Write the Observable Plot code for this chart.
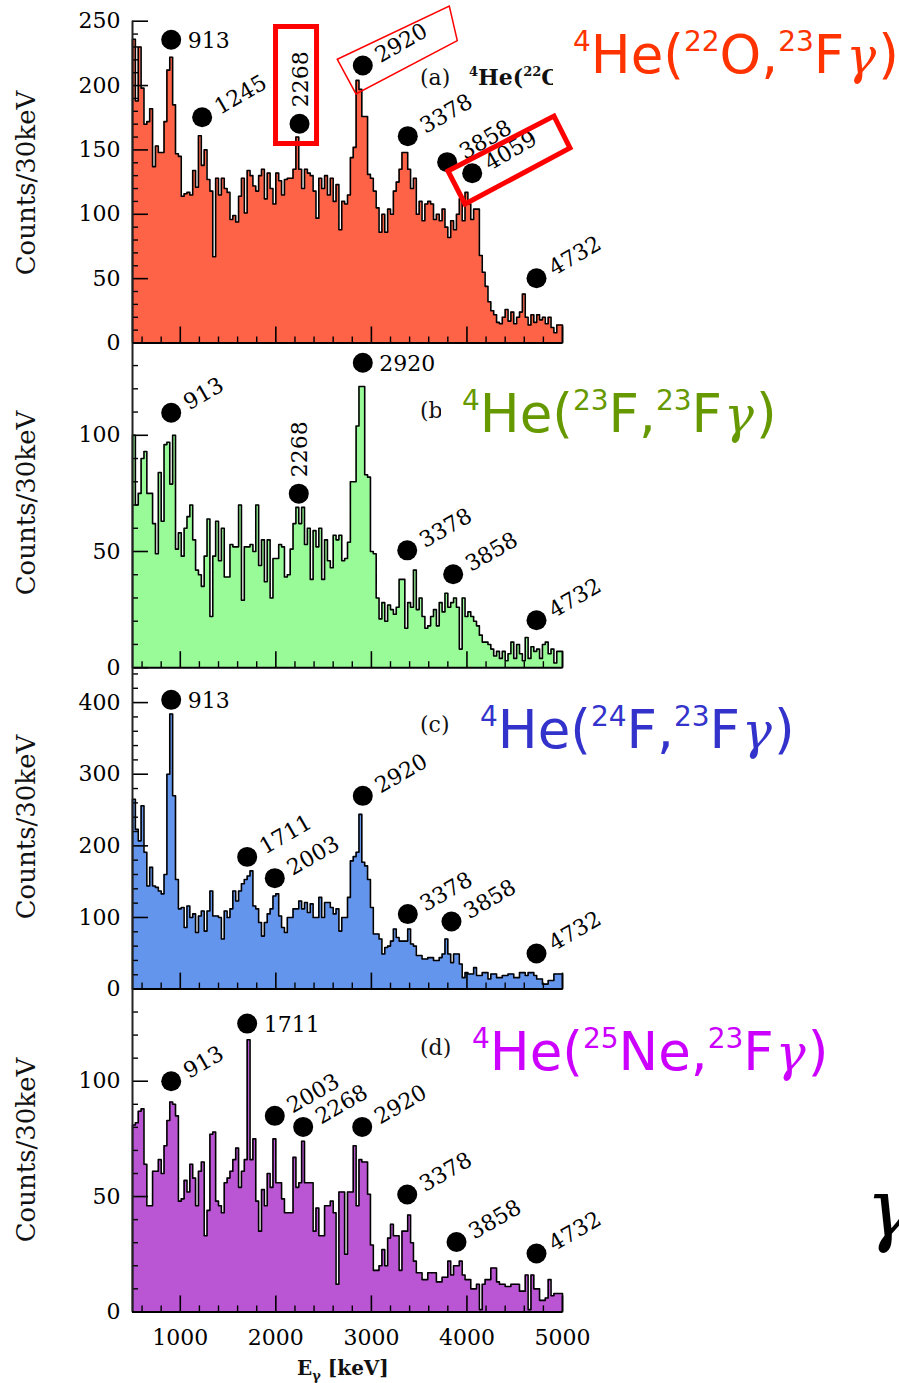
<!DOCTYPE html>
<html><head><meta charset="utf-8">
<script src="https://cdn.jsdelivr.net/npm/d3@7"></script>
<script src="https://cdn.jsdelivr.net/npm/@observablehq/plot@0.6"></script>
<style>
html,body{margin:0;padding:0;background:#fff;overflow:hidden;}
#page{position:relative;width:899px;height:1383px;overflow:hidden;}
#page svg{position:absolute;left:0;}
</style></head><body><div id="page"></div>
<script>
// ---------------- DATA ----------------
const binStart = 500, binWidth = 30, xMin = 500, xMax = 5000;

const countsA = [
236,188,230,198,170,172,182,137,153,148,
148,172,212,222,185,147,145,114,116,117,
115,134,121,161,138,150,127,118,67,128,
115,128,120,117,96,99,94,114,128,101,
134,130,122,118,130,135,112,132,120,108,
132,126,115,127,128,128,135,160,135,120,
135,132,130,118,97,128,120,130,115,128,
110,123,88,110,108,115,144,152,204,197,
176,176,131,128,118,105,86,100,86,104,
100,118,125,135,148,148,135,120,128,100,
110,95,108,110,108,96,100,95,104,90,
82,95,88,100,112,95,117,108,96,104,
104,68,55,44,32,25,22,16,15,20,
26,17,24,15,20,24,38,20,14,22,
16,22,18,20,15,20,12,8,14,14];

const countsB = [
100,70,75,90,93,75,75,62,49,84,
63,96,97,79,100,51,58,48,60,65,
70,55,42,40,35,48,64,22,48,63,
46,60,39,39,53,52,52,70,29,52,
52,53,50,70,44,55,37,55,30,47,
47,53,52,39,40,51,62,69,62,69,
53,60,38,59,52,60,38,55,46,43,
57,55,57,46,47,54,80,80,104,121,
121,83,82,50,49,30,21,28,20,27,
25,23,26,38,38,17,28,26,42,25,
30,22,17,18,22,25,18,28,24,32,
26,28,30,26,8,30,22,24,22,20,
18,14,11,11,10,8,5,7,4,7,
3,6,11,4,10,6,3,13,4,9,
7,8,4,10,11,6,8,2,7,7];

const countsC = [
265,223,207,256,191,144,170,144,142,137,
133,160,300,384,270,153,112,114,86,116,
100,105,79,102,109,81,109,137,102,102,
100,70,109,100,112,137,123,137,147,153,
158,165,116,112,93,74,93,105,112,130,
133,102,86,79,100,100,112,112,123,112,
121,107,119,100,100,128,100,121,121,114,
105,112,81,100,100,128,179,185,191,244,
177,172,153,114,77,77,70,49,58,60,
67,84,72,67,67,67,84,63,60,47,
47,42,42,44,44,40,40,44,49,70,
49,37,49,49,35,16,23,21,21,30,
19,19,23,23,14,21,21,16,16,19,
19,21,21,16,16,23,23,19,23,23,
19,14,14,7,7,12,12,21,21,21];

const countsD = [
81,82,87,88,64,46,46,61,61,66,
60,72,83,91,90,85,48,49,57,52,
64,58,46,61,65,33,44,77,78,48,
46,43,56,58,61,66,71,54,61,66,
118,66,75,48,35,53,46,60,54,75,
56,56,49,43,43,43,67,54,56,74,
56,56,56,35,45,33,33,46,46,48,
43,12,52,52,25,52,52,72,46,66,
65,65,51,29,18,18,20,27,20,32,
38,33,33,18,35,35,42,30,22,17,
17,14,14,17,17,17,13,13,15,15,
22,16,20,20,22,16,14,14,10,10,
12,1,12,14,14,19,19,13,12,12,
11,11,12,12,12,9,9,16,1,16,
10,10,5,5,6,14,7,8,8,8];

// peak annotations (label, dot energy, dot height)
const peakLabelsA = ["913","1245","2268","2920","3378","3858","4059","4732"];
const peakEA = [905,1229,2248,2910,3381,3793,4055,4728];
const peakVA = [235.6,175.4,170.3,215.6,160.7,140.5,131.9,50.3];

const peakLabelsB = ["913","2268","2920","3378","3858","4732"];
const peakEB = [905,2240,2910,3375,3856,4728];
const peakVB = [109.7,74.9,131.2,50.5,40.2,20.4];

const peakLabelsC = ["913","1711","2003","2920","3378","3858","4732"];
const peakEC = [905,1700,1989,2910,3381,3838,4728];
const peakVC = [403.8,184.6,154.9,269.8,104.7,94.3,49.7];

const peakLabelsD = ["913","1711","2003","2268","2920","3378","3858","4732"];
const peakED = [905,1700,1989,2286,2904,3375,3891,4728];
const peakVD = [100,125,85,80.2,80.2,50.9,30.3,25.3];

const yTickLabelsA = [0,50,100,150,200,250];
const yTickLabelsB = [0,50,100];
const yTickLabelsC = [0,100,200,300,400];
const yTickLabelsD = [0,50,100];
const xTickLabels = [1000,2000,3000,4000,5000];

const panelTags = ["(a)","(b)","(c)","(d)"];
const reactionsTarget = ["22O","23F","24F","25Ne"];

// ---------------- DRAWING ----------------
const page = document.getElementById("page");
const W = 899, plotLeft = 132, plotRight = 562;
const pxPerKeV = (plotRight - plotLeft) / (xMax - xMin);
const serif = "DejaVu Serif";

function histPoints(counts) {
  const pts = [{x: xMin, y: 0}];
  counts.forEach((v, i) => pts.push({x: binStart + binWidth * i, y: v}));
  pts.push({x: xMax, y: counts[counts.length - 1]});
  pts.push({x: xMax, y: 0});
  return pts;
}

function makePanel(cfg) {
  const {counts, fill, ymax, top, bottom, mTop = 0, mBottom = 0, majorStep, minorStep,
         yLabels, labels, es, vs, horiz = [], vert = [], showX = false} = cfg;
  const plotH = bottom - top - mTop;
  const yLen = L => L * ymax / plotH;
  const xLen = L => L / pxPerKeV;
  const majors = d3.range(0, ymax + 0.001, majorStep);
  const minors = d3.range(0, ymax + 0.001, minorStep).filter(v => Math.abs(v / majorStep - Math.round(v / majorStep)) > 1e-6);
  const xMajors = d3.range(1000, 5001, 1000);
  const xMinors = d3.range(600, 5000, 200).filter(v => v % 1000 !== 0);
  const peaks = labels.map((l, i) => ({label: l, e: es[i], v: vs[i]}));
  const hPeaks = peaks.filter(p => horiz.includes(p.label));
  const vPeaks = peaks.filter(p => vert.includes(p.label));
  const rPeaks = peaks.filter(p => !horiz.includes(p.label) && !vert.includes(p.label));
  const pts = histPoints(counts);
  const ang = 30 * Math.PI / 180, off = 16.5;
  const marks = [
    Plot.areaY(pts, {x: "x", y: "y", curve: "step-after", fill}),
    Plot.lineY(pts, {x: "x", y: "y", curve: "step-after", stroke: "black", strokeWidth: 1.6}),
    Plot.ruleY(majors, {y: d => d, x1: xMin, x2: xMin + xLen(16), stroke: "black", strokeWidth: 1.6}),
    Plot.ruleY(minors, {y: d => d, x1: xMin, x2: xMin + xLen(6), stroke: "black", strokeWidth: 1.4}),
    Plot.ruleX(xMajors, {x: d => d, y1: 0, y2: yLen(16), stroke: "black", strokeWidth: 1.6}),
    Plot.ruleX(xMinors, {x: d => d, y1: 0, y2: yLen(6), stroke: "black", strokeWidth: 1.4}),
    Plot.ruleX([xMin], {y1: 0, y2: ymax, stroke: "#222", strokeWidth: 2}),
    Plot.ruleY([0], {x1: xMin, x2: xMax, stroke: "black", strokeWidth: 2}),
    Plot.text(yLabels, {x: xMin, y: d => d, text: d => String(d), textAnchor: "end", dx: -12, fontSize: 22, fontFamily: serif, fill: "black"}),
    Plot.dot(peaks, {x: "e", y: "v", r: 10, fill: "black"}),
    Plot.text(hPeaks, {x: "e", y: "v", text: "label", textAnchor: "start", dx: off, dy: 1, fontSize: 22, fontFamily: serif, fill: "black"}),
    Plot.text(vPeaks, {x: "e", y: "v", text: "label", textAnchor: "start", rotate: -90, dx: 1, dy: -off, fontSize: 22, fontFamily: serif, fill: "black"}),
    Plot.text(rPeaks, {x: "e", y: "v", text: "label", textAnchor: "start", rotate: -30, dx: off * Math.cos(ang), dy: -off * Math.sin(ang), fontSize: 22, fontFamily: serif, fill: "black"})
  ];
  if (showX) {
    marks.push(Plot.text(xTickLabels, {x: d => d, y: 0, text: d => String(d), dy: 26, fontSize: 22, fontFamily: serif, fill: "black"}));
  }
  const svg = Plot.plot({
    width: W, height: bottom - top + mBottom,
    marginLeft: plotLeft, marginRight: W - plotRight, marginTop: mTop, marginBottom: mBottom,
    x: {domain: [xMin, xMax], axis: null},
    y: {domain: [0, ymax], axis: null},
    style: {background: "transparent", overflow: "visible"},
    marks
  });
  svg.style.top = top + "px";
  page.appendChild(svg);
  return svg;
}

const pa = makePanel({counts: countsA, fill: "#ff6347", ymax: 250, top: 0, bottom: 342.5, mTop: 20.7,
  majorStep: 50, minorStep: 10, yLabels: yTickLabelsA, labels: peakLabelsA, es: peakEA, vs: peakVA,
  horiz: ["913"], vert: ["2268"]});
makePanel({counts: countsB, fill: "#98fb98", ymax: 139.5, top: 342.5, bottom: 666.7,
  majorStep: 50, minorStep: 10, yLabels: yTickLabelsB, labels: peakLabelsB, es: peakEB, vs: peakVB,
  horiz: ["2920"], vert: ["2268"]});
makePanel({counts: countsC, fill: "#6495ed", ymax: 449, top: 666.7, bottom: 988.3,
  majorStep: 100, minorStep: 20, yLabels: yTickLabelsC, labels: peakLabelsC, es: peakEC, vs: peakVC,
  horiz: ["913"]});
makePanel({counts: countsD, fill: "#ba55d3", ymax: 140.2, top: 988.3, bottom: 1311.7, mBottom: 71,
  majorStep: 50, minorStep: 10, yLabels: yTickLabelsD, labels: peakLabelsD, es: peakED, vs: peakVD,
  horiz: ["1711"], showX: true});

// ---------------- OVERLAY (titles, labels, highlight boxes) ----------------
const ov = d3.create("svg").attr("width", W).attr("height", 1383).style("top", "0px").style("pointer-events", "none");
page.appendChild(ov.node());

// y-axis titles
const panelCenters = [183, 503, 827, 1150];
panelCenters.forEach(cy => {
  ov.append("text").attr("transform", `translate(35,${cy}) rotate(-90)`).attr("text-anchor", "middle")
    .attr("font-family", serif).attr("font-size", 26).attr("fill", "#111").text("Counts/30keV");
});

// x-axis title
const xt = ov.append("text").attr("x", 297).attr("y", 1375).attr("font-family", serif).attr("font-weight", "bold")
  .attr("font-size", 20).attr("fill", "#111");
xt.append("tspan").text("E");
xt.append("tspan").attr("font-size", 13).attr("dy", 5).text("γ");
xt.append("tspan").attr("dy", -5).text(" [keV]");

// panel tags (serif) under the coloured labels
const tagBase = [85, 418, 732, 1055];
panelTags.forEach((t, i) => {
  ov.append("text").attr("x", 420).attr("y", tagBase[i]).attr("font-family", serif).attr("font-size", 22)
    .attr("fill", "#111").text(t);
});
const fa = ov.append("text").attr("x", 469).attr("y", 85).attr("font-family", serif).attr("font-weight", "bold")
  .attr("font-size", 22).attr("fill", "#111");
fa.append("tspan").attr("font-size", 13).attr("dy", -9).text("4");
fa.append("tspan").attr("dy", 9).text("He(");
fa.append("tspan").attr("font-size", 13).attr("dy", -9).text("22");
fa.append("tspan").attr("dy", 9).text("O,");

// coloured reaction labels with white boxes
const boxes = [
  {x: 553, y: 22, h: 80, lx: 573, base: 73, color: "#ff3300"},
  {x: 441, y: 378, h: 74, lx: 462, base: 432, color: "#669900"},
  {x: 456, y: 690, h: 80, lx: 480, base: 748, color: "#3333cc"},
  {x: 452, y: 1012, h: 80, lx: 472, base: 1070, color: "#cc00ff"}
];
boxes.forEach((b, i) => {
  ov.append("rect").attr("x", b.x).attr("y", b.y).attr("width", W - b.x).attr("height", b.h).attr("fill", "white");
  const m = reactionsTarget[i].match(/^(\d+)(\D+)$/);
  const t = ov.append("text").attr("x", b.lx).attr("y", b.base).attr("font-family", "DejaVu Sans")
    .attr("font-size", 53).attr("fill", b.color);
  t.append("tspan").attr("font-size", 28).attr("dy", -22).text("4");
  t.append("tspan").attr("dy", 22).text("He(");
  t.append("tspan").attr("font-size", 28).attr("dy", -22).text(m[1]);
  t.append("tspan").attr("dy", 22).text(m[2] + ",");
  t.append("tspan").attr("font-size", 28).attr("dy", -22).text("23");
  t.append("tspan").attr("dy", 22).text("F");
  t.append("tspan").attr("font-family", "DejaVu Serif").attr("font-style", "italic").attr("font-size", 50).attr("dx", 2).text("γ");
  t.append("tspan").attr("dx", 2).text(")");
});

// large gamma at the right edge
ov.append("text").attr("x", 866).attr("y", 1236).attr("font-family", "DejaVu Serif").attr("font-style", "italic")
  .attr("font-size", 80).attr("fill", "black").text("γ");

// red highlight frames around panel (a) labels, anchored at the dots
const sxd = pa.scale("x"), syd = pa.scale("y");
const sx = sxd.apply ? v => sxd.apply(v) : d3.scaleLinear(sxd.domain, sxd.range);
const sy = syd.apply ? v => syd.apply(v) : d3.scaleLinear(syd.domain, syd.range);
function dotPx(label) {
  const i = peakLabelsA.indexOf(label);
  return [sx(peakEA[i]), sy(peakVA[i])];
}
function frame(label, offs, width) {
  const [X, Y] = dotPx(label);
  ov.append("polygon").attr("points", offs.map(([dx, dy]) => `${X + dx},${Y + dy}`).join(" "))
    .attr("fill", "none").attr("stroke", "#f00").attr("stroke-width", width).attr("stroke-linejoin", "miter");
}
frame("2268", [[-23.5, -96.8], [17.5, -96.8], [17.5, 20.2], [-23.5, 20.2]], 5);
frame("2920", [[-25, -5.7], [87, -59], [95, -24.3], [-6.3, 29]], 1.5);
frame("4059", [[-23.7, -1.7], [82.3, -56.7], [98.3, -24.7], [-6.7, 31.3]], 5);
</script>
</body></html>
